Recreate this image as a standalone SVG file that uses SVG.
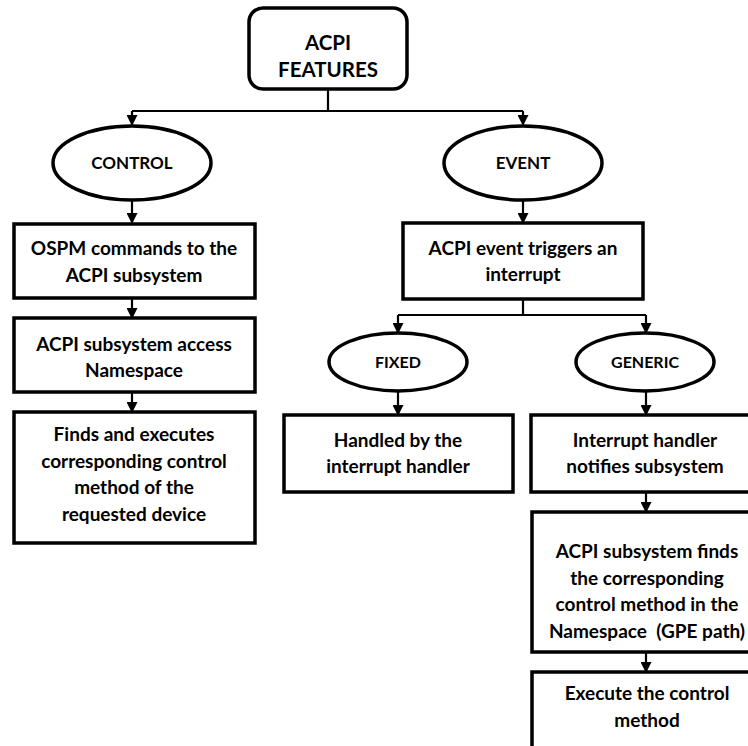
<svg xmlns="http://www.w3.org/2000/svg" width="748" height="746" viewBox="0 0 748 746">
  <defs>
    <marker id="tri" markerWidth="11" markerHeight="11" refX="9" refY="5.5" orient="auto" markerUnits="userSpaceOnUse" viewBox="0 0 11 11">
      <path d="M0,0 L11,5.5 L0,11 Z" fill="#000"/>
    </marker>
  </defs>
  <style>
    .box { fill: #fff; stroke: #000; stroke-width: 3.5; }
    .ell { fill: #fff; stroke: #000; stroke-width: 3.5; }
    .wire { fill: none; stroke: #000; stroke-width: 2.2; }
    .arrow { fill: none; stroke: #000; stroke-width: 2.2; marker-end: url(#tri); }
    text { font-family: Lato, "Open Sans", "Liberation Sans", sans-serif; font-weight: bold; fill: #000; text-anchor: middle; }
    .t { font-size: 19px; }
    .o { font-size: 17px; }
    .s { font-size: 16px; }
    .h { font-size: 20.5px; }
  </style>
  <rect width="748" height="746" fill="#fff"/>

  <g id="connectors">
    <path class="wire" d="M328,89 V111 M132,111 H523"/>
    <path class="arrow" d="M132,111 V124"/>
    <path class="arrow" d="M523,111 V124"/>
    <path class="arrow" d="M132,200 V222"/>
    <path class="arrow" d="M523,200 V222"/>
    <path class="arrow" d="M132,298 V317"/>
    <path class="arrow" d="M132,392 V411"/>
    <path class="wire" d="M523,299 V315 M398,315 H646"/>
    <path class="arrow" d="M398,315 V332"/>
    <path class="arrow" d="M646,315 V332"/>
    <path class="arrow" d="M398,392 V414"/>
    <path class="arrow" d="M646,392 V414"/>
    <path class="arrow" d="M646,492 V511"/>
    <path class="arrow" d="M646,652 V671"/>
  </g>

  <g id="acpi-features">
    <rect class="box" x="249" y="8" width="158" height="81" rx="14"/>
    <text class="h" x="328" y="50">ACPI</text>
    <text class="h" x="328" y="77">FEATURES</text>
  </g>

  <g id="control">
    <ellipse class="ell" cx="132" cy="163" rx="79" ry="37"/>
    <text class="o" x="132" y="169">CONTROL</text>
  </g>

  <g id="event">
    <ellipse class="ell" cx="523" cy="163" rx="79" ry="37"/>
    <text class="o" x="523" y="169">EVENT</text>
  </g>

  <g id="ospm-commands">
    <rect class="box" x="14" y="224" width="241" height="74"/>
    <text class="t" x="134" y="255">OSPM commands to the</text>
    <text class="t" x="134" y="282">ACPI subsystem</text>
  </g>

  <g id="namespace-access">
    <rect class="box" x="14" y="318" width="241" height="74"/>
    <text class="t" x="134" y="351">ACPI subsystem access</text>
    <text class="t" x="134" y="377">Namespace</text>
  </g>

  <g id="find-execute">
    <rect class="box" x="14" y="412" width="241" height="131"/>
    <text class="t" x="134" y="441">Finds and executes</text>
    <text class="t" x="134" y="468">corresponding control</text>
    <text class="t" x="134" y="494">method of the</text>
    <text class="t" x="134" y="521">requested device</text>
  </g>

  <g id="event-interrupt">
    <rect class="box" x="403" y="223" width="240" height="76"/>
    <text class="t" x="523" y="255">ACPI event triggers an</text>
    <text class="t" x="523" y="281">interrupt</text>
  </g>

  <g id="fixed">
    <ellipse class="ell" cx="398" cy="362" rx="69" ry="29"/>
    <text class="s" x="398" y="368">FIXED</text>
  </g>

  <g id="generic">
    <ellipse class="ell" cx="645" cy="362" rx="69" ry="29"/>
    <text class="s" x="645" y="368">GENERIC</text>
  </g>

  <g id="handled">
    <rect class="box" x="284" y="415" width="229" height="77"/>
    <text class="t" x="398" y="447">Handled by the</text>
    <text class="t" x="398" y="473">interrupt handler</text>
  </g>

  <g id="notifies">
    <rect class="box" x="531" y="415" width="230" height="77"/>
    <text class="t" x="645" y="447">Interrupt handler</text>
    <text class="t" x="645" y="473">notifies subsystem</text>
  </g>

  <g id="finds-method">
    <rect class="box" x="532" y="512" width="230" height="140"/>
    <text class="t" x="647" y="558">ACPI subsystem finds</text>
    <text class="t" x="647" y="585">the corresponding</text>
    <text class="t" x="647" y="611">control method in the</text>
    <text class="t" x="647" y="638" xml:space="preserve">Namespace  (GPE path)</text>
  </g>

  <g id="execute">
    <rect class="box" x="532" y="672" width="230" height="90"/>
    <text class="t" x="647" y="700">Execute the control</text>
    <text class="t" x="647" y="727">method</text>
  </g>
</svg>
